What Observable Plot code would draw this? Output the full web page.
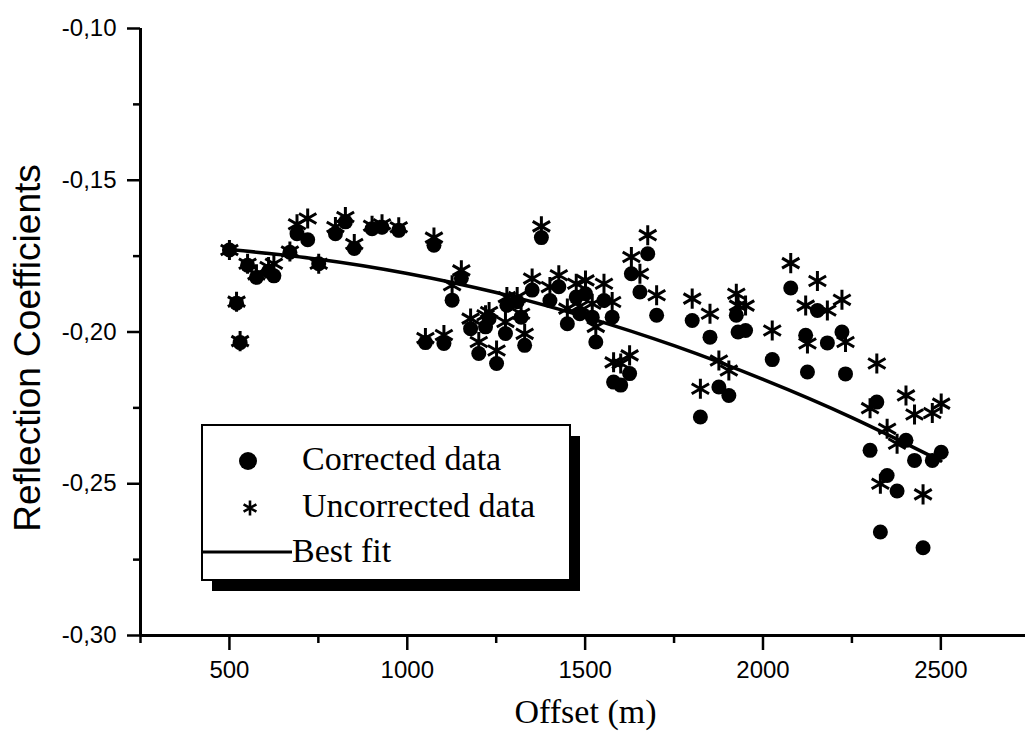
<!DOCTYPE html>
<html><head><meta charset="utf-8">
<script src="https://cdn.jsdelivr.net/npm/d3@7"></script>
<script src="https://cdn.jsdelivr.net/npm/@observablehq/plot@0.6"></script>
<style>
body{margin:0;background:#fff}
#wrap{position:relative;width:1025px;height:732px}
#legend{position:absolute;left:0;top:0;pointer-events:none}
</style></head><body><div id="wrap"></div>
<script>
const offsets = [500,520,530,551,576,610,625,670,690,720,751,798,826,851,901,929,976,1051,1075,1103,1126,1152,1178,1201,1220,1230,1251,1276,1280,1309,1320,1330,1351,1377,1401,1426,1450,1475,1485,1501,1520,1530,1553,1576,1580,1600,1625,1630,1654,1676,1701,1801,1824,1851,1876,1904,1925,1930,1951,2026,2078,2120,2125,2153,2181,2222,2232,2301,2320,2330,2349,2377,2402,2426,2450,2476,2501];
const corrected = [-0.173,-0.1905,-0.2035,-0.178,-0.182,-0.180,-0.1815,-0.1737,-0.1676,-0.1696,-0.1775,-0.1676,-0.1637,-0.1725,-0.166,-0.1655,-0.1665,-0.2035,-0.1714,-0.2038,-0.1895,-0.1823,-0.1989,-0.2071,-0.1983,-0.1956,-0.2104,-0.2005,-0.1912,-0.19,-0.1951,-0.2044,-0.1862,-0.1689,-0.1896,-0.1851,-0.1973,-0.1885,-0.194,-0.1874,-0.1951,-0.2033,-0.1896,-0.1951,-0.2165,-0.2175,-0.2137,-0.1808,-0.1868,-0.1742,-0.1945,-0.1962,-0.228,-0.2017,-0.2181,-0.2209,-0.1945,-0.2,-0.1995,-0.2091,-0.1855,-0.2011,-0.2132,-0.1929,-0.2036,-0.2,-0.2138,-0.239,-0.2231,-0.2659,-0.2473,-0.2524,-0.2357,-0.2423,-0.2711,-0.2423,-0.2396];
const uncorrected = [-0.173,-0.19,-0.203,-0.1775,-0.181,-0.1786,-0.1775,-0.1735,-0.1645,-0.1626,-0.1775,-0.1654,-0.1621,-0.171,-0.165,-0.1645,-0.1655,-0.202,-0.1689,-0.201,-0.1846,-0.1797,-0.1956,-0.2033,-0.1945,-0.1934,-0.2061,-0.1967,-0.1885,-0.1885,-0.194,-0.2006,-0.1824,-0.1652,-0.1852,-0.1813,-0.1923,-0.1841,-0.1915,-0.183,-0.1907,-0.1983,-0.1841,-0.1901,-0.21,-0.2104,-0.2077,-0.1753,-0.1808,-0.1681,-0.1879,-0.189,-0.2187,-0.194,-0.2094,-0.2127,-0.1874,-0.1913,-0.1913,-0.1995,-0.1773,-0.1913,-0.2038,-0.1832,-0.1929,-0.1894,-0.2033,-0.2251,-0.2104,-0.25,-0.2319,-0.2368,-0.2209,-0.2272,-0.2535,-0.2267,-0.2236];
const fitOffsets = [500,750,1000,1250,1500,1750,2000,2250,2500];
const fitValues = [-0.1728,-0.1760,-0.1807,-0.1870,-0.1950,-0.2045,-0.2156,-0.2282,-0.2425];
const yTicks = [-0.30,-0.25,-0.20,-0.15,-0.10];
const yMinor = [-0.275,-0.225,-0.175,-0.125];
const xTicks = [500,1000,1500,2000,2500];
const xMinor = [250,750,1250,1750,2250];
const xLabel = "Offset (m)";
const yLabel = "Reflection Coefficients";
const legendLabels = ["Corrected data","Uncorrected data","Best fit"];

const corrData = offsets.map((o,i)=>({x:o,y:corrected[i]}));
const uncData = offsets.map((o,i)=>({x:o,y:uncorrected[i]}));
const fitData = fitOffsets.map((o,i)=>({x:o,y:fitValues[i]}));

const sans = "'Liberation Sans', Arial, sans-serif";
const serif = "'Liberation Serif', 'Times New Roman', serif";
const fmtY = d => d.toFixed(2).replace(".", ",");

const chart = Plot.plot({
  width: 1025, height: 732,
  marginLeft: 140, marginRight: 0, marginTop: 28, marginBottom: 97,
  style: {fontFamily: sans, fontSize: "24px", color: "black", background: "white", overflow: "visible"},
  x: {domain: [250, 2738]},
  y: {domain: [-0.30, -0.10]},
  marks: [
    Plot.line(fitData, {x: "x", y: "y", curve: "natural", stroke: "black", strokeWidth: 3.5}),
    Plot.dot(corrData, {x: "x", y: "y", r: 7.5, fill: "black", stroke: null}),
    Plot.dot(uncData, {x: "x", y: "y", r: 9.5, symbol: "asterisk", stroke: "black", strokeWidth: 3}),
    Plot.axisY({ticks: yTicks, tickSize: 13, tickPadding: 11, tickFormat: fmtY, strokeWidth: 2.5, label: null, fontSize: 24}),
    Plot.axisY({ticks: yMinor, tickSize: 7, tickFormat: () => "", strokeWidth: 2.5, label: null}),
    Plot.axisX({ticks: xTicks, tickSize: 15, tickPadding: 10, tickFormat: d => String(d), strokeWidth: 2.5, label: null, fontSize: 24}),
    Plot.axisX({ticks: xMinor, tickSize: 8, tickFormat: () => "", strokeWidth: 2.5, label: null}),
    Plot.ruleX([250], {y1: -0.30, y2: -0.10, strokeWidth: 3}),
    Plot.ruleY([-0.30], {strokeWidth: 3}),
    Plot.text([xLabel], {frameAnchor: "bottom", dy: 77, dx: 2.5, textAnchor: "middle", lineAnchor: "middle", fontFamily: serif, fontSize: 34}),
    Plot.text([yLabel], {frameAnchor: "left", dx: -112, dy: 16, rotate: -90, textAnchor: "middle", lineAnchor: "middle", fontFamily: sans, fontSize: 37})
  ]
});
const wrap = document.getElementById("wrap");
wrap.appendChild(chart);

// legend overlay
const lg = d3.select(wrap).append("svg").attr("id","legend").attr("width",1025).attr("height",732);
lg.append("rect").attr("x",212).attr("y",436).attr("width",368).attr("height",155).attr("fill","black");
lg.append("rect").attr("x",202).attr("y",425).attr("width",368).attr("height",155).attr("fill","white").attr("stroke","black").attr("stroke-width",2);
lg.append("circle").attr("cx",248).attr("cy",461).attr("r",9).attr("fill","black");
lg.append("path").attr("transform","translate(250,508)").attr("d", d3.symbol(d3.symbolAsterisk, Math.PI*7*7)()).attr("stroke","black").attr("stroke-width",2.6).attr("fill","none");
lg.append("line").attr("x1",203).attr("x2",292).attr("y1",552).attr("y2",552).attr("stroke","black").attr("stroke-width",3);
const tx = [[302,470],[302,517],[292,562]];
legendLabels.forEach((t,i)=>{
  lg.append("text").attr("x",tx[i][0]).attr("y",tx[i][1]).attr("font-family",serif).attr("font-size",34).attr("fill","black").text(t);
});
</script></body></html>
